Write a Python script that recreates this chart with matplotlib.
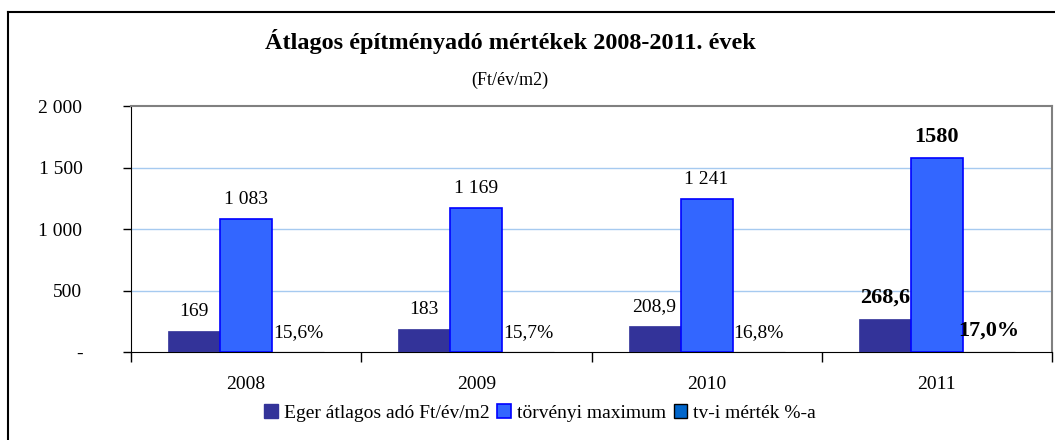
import matplotlib
matplotlib.use("Agg")
import matplotlib.pyplot as plt
from matplotlib.patches import Rectangle
from matplotlib.lines import Line2D
import numpy as np

years = ["2008", "2009", "2010", "2011"]
eger = [169, 183, 208.9, 268.6]
eger_labels = ["169", "183", "208,9", "268,6"]
maximum = [1083, 1169, 1241, 1580]
max_labels = ["1 083", "1 169", "1 241", "1580"]
pct = [0.156, 0.157, 0.168, 0.170]
pct_labels = ["15,6%", "15,7%", "16,8%", "17,0%"]
series_names = ["Eger átlagos adó Ft/év/m2", "törvényi maximum", "tv-i mérték %-a"]
yticks = [0, 500, 1000, 1500, 2000]
ytick_labels = ["-", "500", "1 000", "1 500", "2 000"]

plt.rcParams['font.family'] = ['Liberation Serif', 'DejaVu Serif']

W, H = 1055, 440
fig = plt.figure(figsize=(W / 100, H / 100), dpi=100)
ax = fig.add_axes([131 / W, 1 - 352 / H, (1052 - 131) / W, (352 - 106) / H])

x = np.arange(len(years))
w = 0.226
c1, c2, c3 = "#333399", "#3366FF", "#0066CC"
b1 = ax.bar(x - w, eger, w, color=c1, edgecolor=c1, linewidth=0.5, zorder=3)
b2 = ax.bar(x, maximum, w, color=c2, edgecolor="#0000FF", linewidth=1.2, zorder=3)
b3 = ax.bar(x + w, pct, w, color=c3, edgecolor="black", linewidth=0.8, zorder=3)

last = len(years) - 1
for bars, labels in ((b1, eger_labels), (b2, max_labels), (b3, pct_labels)):
    for i, (rect, lab) in enumerate(zip(bars, labels)):
        bold = i == last
        ax.annotate(lab, (rect.get_x() + rect.get_width() / 2, rect.get_height()),
                    xytext=(0, 8), textcoords="offset points",
                    ha="center", va="bottom",
                    fontsize=16 if bold else 14,
                    fontweight="bold" if bold else "normal", zorder=5)

ax.set_xlim(-0.5, len(years) - 0.5)
ax.set_ylim(0, 2000)
ax.set_yticks(yticks)
ax.set_yticklabels(ytick_labels, fontsize=14)
ax.tick_params(axis="y", direction="out", length=6, width=1, pad=29)
ax.set_xticks(x)
ax.set_xticklabels(years, fontsize=14)
ax.set_xticks(np.arange(-0.5, len(years) + 0.5, 1), minor=True)
ax.tick_params(axis="x", which="major", length=0, pad=17)
ax.tick_params(axis="x", which="minor", direction="out", length=7, width=1)

for v in yticks[1:-1]:
    ax.axhline(v, color="#A6CAF0", linewidth=1, zorder=1)

ax.spines["left"].set_color("black")
ax.spines["bottom"].set_color("black")
ax.spines["top"].set_color("#808080")
ax.spines["right"].set_color("#808080")
ax.spines["top"].set_linewidth(1.5)
ax.spines["right"].set_linewidth(1.5)

fig.text(510 / W, 1 - 42 / H, "Átlagos építményadó mértékek 2008-2011. évek",
         ha="center", va="center", fontsize=17.5, fontweight="bold")
fig.text(510 / W, 1 - 80 / H, "(Ft/év/m2)", ha="center", va="center", fontsize=13)

handles = [
    Rectangle((0, 0), 1, 1, facecolor=c1, edgecolor=c1),
    Rectangle((0, 0), 1, 1, facecolor=c2, edgecolor="#0000FF", linewidth=1.2),
    Rectangle((0, 0), 1, 1, facecolor=c3, edgecolor="black", linewidth=1),
]
fig.legend(handles, series_names, loc="center", bbox_to_anchor=(540 / W, 1 - 413 / H),
           ncol=3, frameon=False, fontsize=14, handlelength=0.7, handleheight=0.7,
           handletextpad=0.3, columnspacing=0.4)

# outer chart border
fig.add_artist(Line2D([8 / W, 8 / W], [1 - 12 / H, 0], color="black", linewidth=1.5,
                      transform=fig.transFigure))
fig.add_artist(Line2D([8 / W, 1], [1 - 12 / H, 1 - 12 / H], color="black", linewidth=1.5,
                      transform=fig.transFigure))

fig.savefig("out.png", dpi=100)
